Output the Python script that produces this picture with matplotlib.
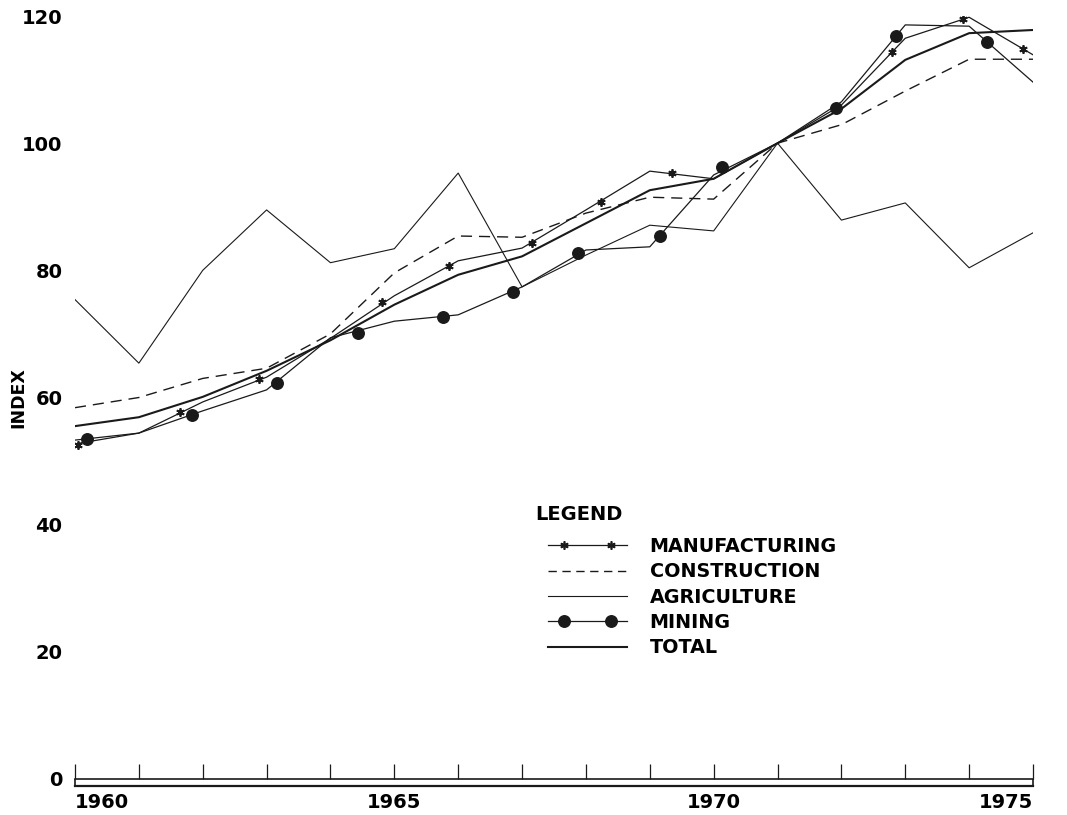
import numpy as np
import matplotlib
matplotlib.use('Agg')
import matplotlib.pyplot as plt
from matplotlib.lines import Line2D
from matplotlib.legend_handler import HandlerLine2DCompound

plt.rcParams['font.family'] = ['DejaVu Sans']
plt.rcParams['font.weight'] = 'bold'

# --- data ---
years = list(range(1960, 1976))
manufacturing = [52.7, 54.4, 59.3, 63.2, 69.3, 76.0, 81.5, 83.5, 89.5, 95.6, 94.4, 100, 106.0, 116.5, 119.8, 113.9]
construction = [58.4, 60.0, 63.0, 64.6, 70.0, 79.6, 85.4, 85.2, 89.0, 91.5, 91.2, 100, 102.9, 108.2, 113.2, 113.2]
agriculture = [75.4, 65.4, 80.0, 89.5, 81.2, 83.4, 95.3, 77.4, 82.4, 87.1, 86.2, 100, 87.9, 90.6, 80.4, 85.9]
mining = [53.3, 54.4, 57.9, 61.2, 69.4, 72.0, 73.0, 77.4, 83.2, 83.7, 95.0, 100, 106.5, 118.6, 118.4, 109.6]
total = [55.5, 56.9, 60.1, 64.2, 69.0, 74.6, 79.3, 82.2, 87.4, 92.6, 94.4, 100, 105.4, 113.1, 117.3, 117.8]

# marker positions drawn along the curves (not on year vertices)
mfg_mark_x = [1960.05, 1961.64, 1962.88, 1964.81, 1965.86, 1967.16, 1968.24, 1969.35, 1972.79, 1973.90, 1974.84]
mfg_mark_y = [52.5, 57.7, 62.9, 75.0, 80.7, 84.3, 90.8, 95.3, 114.3, 119.5, 114.8]
min_mark_x = [1960.19, 1961.83, 1963.16, 1964.43, 1965.76, 1966.86, 1967.88, 1969.16, 1970.13, 1971.92, 1972.85, 1974.28]
min_mark_y = [53.5, 57.3, 62.3, 70.1, 72.7, 76.6, 82.7, 85.4, 96.3, 105.5, 116.9, 115.9]

y_ticks = [0, 20, 40, 60, 80, 100, 120]
x_labels = {1960: '1960', 1965: '1965', 1970: '1970', 1975: '1975'}
legend_labels = ['MANUFACTURING', 'CONSTRUCTION', 'AGRICULTURE', 'MINING', 'TOTAL']

INK = '#1a1a1a'
W, H = 1067, 815


class InsetMarkers(HandlerLine2DCompound):
    # full-length sample line, markers at 1/5 and 4/5 like the printed key
    def get_xdata(self, legend, xdescent, ydescent, width, height, fontsize):
        x0 = -xdescent
        return np.array([x0, x0 + width]), x0 + width * np.array([0.2, 0.8])


fig = plt.figure(figsize=(W / 100, H / 100), dpi=100)
ax = fig.add_axes([75 / W, 36 / H, (1033 - 75) / W, (779 - 16) / H])

ax.plot(years, agriculture, color=INK, lw=0.8)
ax.plot(years, construction, color=INK, lw=1.0, dashes=(8, 5))
ax.plot(years, mining, color=INK, lw=0.9)
ax.plot(years, manufacturing, color=INK, lw=0.9)
ax.plot(years, total, color=INK, lw=1.5)
ax.plot(mfg_mark_x, mfg_mark_y, ls='none', marker=(6, 2, 0), ms=6, mew=1.3, color=INK)
ax.plot(min_mark_x, min_mark_y, ls='none', marker='o', ms=8.3, color=INK)

ax.set_xlim(1960, 1975)
ax.set_ylim(0, 120)
for s in ['top', 'right', 'left']:
    ax.spines[s].set_visible(False)
ax.spines['bottom'].set_linewidth(1.2)
ax.spines['bottom'].set_color(INK)
# second rule of the double baseline
ax.axhline(-1.05, color=INK, lw=1.6, clip_on=False)
ax.vlines([1960, 1975], -1.05, 0, color=INK, lw=1.2, clip_on=False)

ax.set_yticks(y_ticks)
ax.set_yticklabels([str(v) for v in y_ticks], fontsize=14, fontweight='bold')
ax.tick_params(axis='y', length=0, pad=9)

ax.set_xticks(years)
ax.set_xticklabels([x_labels.get(y, '') for y in years], fontsize=14, fontweight='bold')
ax.tick_params(axis='x', direction='in', length=11, width=0.9, color=INK, pad=10)
tl = ax.get_xticklabels()
tl[0].set_ha('left')
tl[-1].set_ha('right')

fig.text(18 / W, 1 - 398 / H, 'INDEX', rotation=90, ha='center', va='center',
         fontsize=12.5, fontweight='bold')

# legend
fig.text(535 / W, 1 - 515 / H, 'LEGEND', ha='left', va='center', fontsize=14, fontweight='bold')
handles = [
    Line2D([], [], color=INK, lw=0.9, marker=(6, 2, 0), ms=6, mew=1.2),
    Line2D([], [], color=INK, lw=1.0, dashes=(6, 4)),
    Line2D([], [], color=INK, lw=0.8),
    Line2D([], [], color=INK, lw=0.9, marker='o', ms=8.3),
    Line2D([], [], color=INK, lw=1.5),
]
leg = fig.legend(handles, legend_labels, loc='upper left',
                 bbox_to_anchor=(548 / W, 1 - 537 / H), bbox_transform=fig.transFigure,
                 handler_map={Line2D: InsetMarkers()},
                 frameon=False, handlelength=4.1, handletextpad=1.2,
                 labelspacing=0.33, borderpad=0, borderaxespad=0,
                 prop={'size': 13.8, 'weight': 'bold'})

fig.savefig('out.png', dpi=100)
